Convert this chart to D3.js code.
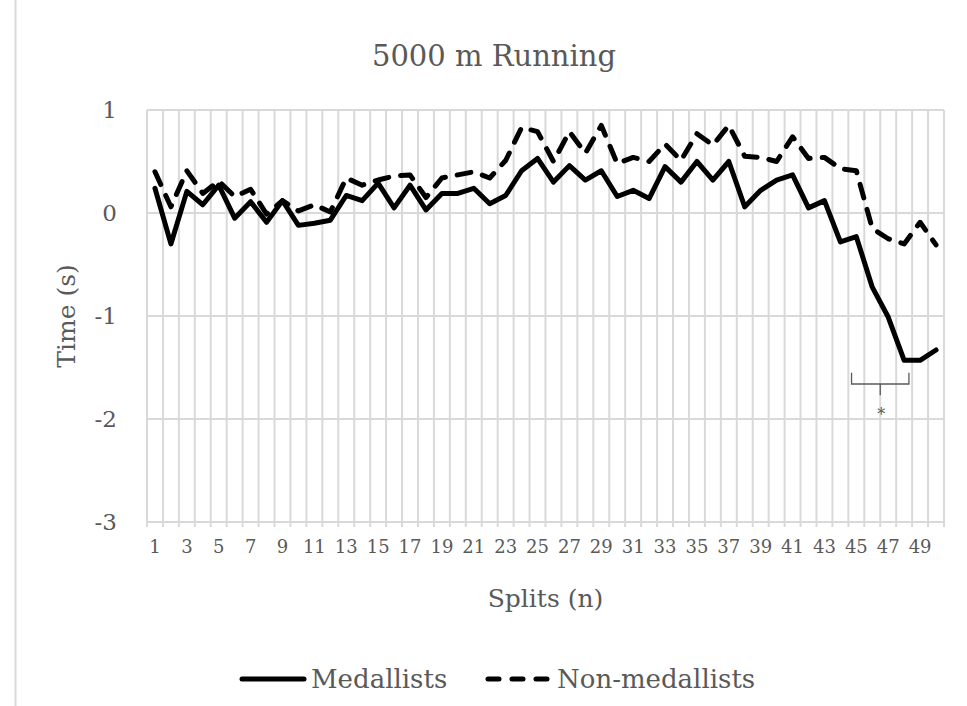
<!DOCTYPE html>
<html>
<head>
<meta charset="utf-8">
<script src="https://cdn.jsdelivr.net/npm/d3@7"></script>
<style>
  html, body { margin: 0; padding: 0; background: #fff; }
  svg { display: block; }
  text { font-family: "Palatino Linotype", "Book Antiqua", Palatino, "DejaVu Serif", serif; fill: #595959; }
</style>
</head>
<body>
<svg id="chart" width="967" height="706"></svg>
<script>
const title = "5000 m Running";
const xTitle = "Splits (n)";
const yTitle = "Time (s)";
const splits = [1,2,3,4,5,6,7,8,9,10,11,12,13,14,15,16,17,18,19,20,21,22,23,24,25,26,27,28,29,30,31,32,33,34,35,36,37,38,39,40,41,42,43,44,45,46,47,48,49,50];
const xTickLabels = [1,3,5,7,9,11,13,15,17,19,21,23,25,27,29,31,33,35,37,39,41,43,45,47,49];
const yTicks = [1,0,-1,-2,-3];
const yTickLabels = ["1","0","-1","-2","-3"];
const medallists = [0.24,-0.30,0.21,0.08,0.27,-0.05,0.11,-0.09,0.12,-0.12,
  -0.10,-0.07,0.17,0.12,0.29,0.05,0.27,0.03,0.19,0.19,
  0.24,0.09,0.17,0.41,0.53,0.30,0.46,0.32,0.41,0.16,
  0.22,0.14,0.45,0.30,0.50,0.32,0.50,0.06,0.22,0.32,
  0.37,0.05,0.12,-0.28,-0.23,-0.72,-1.01,-1.43,-1.43,-1.33];
const nonMedallists = [0.40,0.06,0.41,0.19,0.31,0.16,0.23,-0.01,0.12,0.02,
  0.08,0.01,0.34,0.27,0.32,0.36,0.37,0.15,0.34,0.37,
  0.40,0.34,0.51,0.83,0.79,0.50,0.79,0.58,0.85,0.48,
  0.54,0.50,0.67,0.51,0.77,0.66,0.85,0.55,0.54,0.50,
  0.74,0.53,0.54,0.43,0.41,-0.15,-0.25,-0.30,-0.09,-0.31];
const seriesNames = ["Medallists", "Non-medallists"];
// significance bracket (in split / seconds units)
const bracketFrom = 44.7, bracketTo = 48.3;
const bracketTop = -1.55, bracketBottom = -1.66, bracketTip = -1.77, starY = -1.93;
const starLabel = "*";

const svg = d3.select("#chart");
const W = 967, H = 706;
const plot = {left: 147, right: 944, top: 110, bottom: 522};

const x = d3.scaleBand().domain(splits).range([plot.left, plot.right]).padding(0);
const bw = x.bandwidth();
const xc = s => x(s) + bw / 2;
const xf = s => plot.left + (s - 0.5) * bw; // fractional split position
const y = d3.scaleLinear().domain([-3, 1]).range([plot.bottom, plot.top]);

// outer left border line
svg.append("line").attr("x1", 15.5).attr("x2", 15.5).attr("y1", 0).attr("y2", H)
  .attr("stroke", "#d9d9d9").attr("stroke-width", 2);

// title
svg.append("text").attr("x", 494).attr("y", 66).attr("text-anchor", "middle")
  .style("font-size", "29px").text(title);

// grid
const grid = svg.append("g");
const boundaries = splits.map(s => x(s)).concat([plot.right]);
grid.selectAll("line.v").data(boundaries).join("line")
  .attr("x1", d => d).attr("x2", d => d)
  .attr("y1", plot.top).attr("y2", plot.bottom + 5)
  .attr("stroke", "#d9d9d9").attr("stroke-width", 2);
grid.selectAll("line.h").data(yTicks).join("line")
  .attr("x1", plot.left).attr("x2", plot.right)
  .attr("y1", d => y(d)).attr("y2", d => y(d))
  .attr("stroke", "#d9d9d9").attr("stroke-width", 2);

// y axis labels
const yAxis = d3.axisLeft(y).tickValues(yTicks).tickSize(0).tickPadding(30)
  .tickFormat((d, i) => yTickLabels[i]);
const gy = svg.append("g").attr("transform", `translate(${plot.left},0)`).call(yAxis);
gy.select(".domain").remove();
gy.selectAll("text").style("font-size", "23px").style("font-family", null).attr("fill", "#595959");

// x axis labels
const xAxis = d3.axisBottom(x).tickValues(xTickLabels).tickSize(0).tickPadding(18);
const gx = svg.append("g").attr("transform", `translate(0,${plot.bottom})`).call(xAxis);
gx.select(".domain").remove();
gx.selectAll("text").style("font-size", "18px").style("font-family", null).attr("fill", "#595959");

// axis titles
svg.append("text").attr("x", (plot.left + plot.right) / 2).attr("y", 607).attr("text-anchor", "middle")
  .style("font-size", "25px").text(xTitle);
svg.append("text").attr("transform", `translate(75,${(plot.top + plot.bottom) / 2}) rotate(-90)`)
  .attr("text-anchor", "middle").style("font-size", "25px").text(yTitle);

// lines
const line = d3.line().x((d, i) => xc(splits[i])).y(d => y(d)).curve(d3.curveLinear);
svg.append("path").datum(nonMedallists).attr("d", line).attr("fill", "none")
  .attr("stroke", "#000").attr("stroke-width", 5).attr("stroke-linecap", "round")
  .attr("stroke-linejoin", "round").attr("stroke-dasharray", "14,12");
svg.append("path").datum(medallists).attr("d", line).attr("fill", "none")
  .attr("stroke", "#000").attr("stroke-width", 5).attr("stroke-linecap", "round")
  .attr("stroke-linejoin", "round");

// bracket
const bx0 = xf(bracketFrom), bx1 = xf(bracketTo), bm = (bx0 + bx1) / 2;
svg.append("path")
  .attr("d", `M${bx0},${y(bracketTop)} L${bx0},${y(bracketBottom)} L${bx1},${y(bracketBottom)} L${bx1},${y(bracketTop)} M${bm},${y(bracketBottom)} L${bm},${y(bracketTip)}`)
  .attr("fill", "none").attr("stroke", "#595959").attr("stroke-width", 1.3);
svg.append("text").attr("x", bm + 1).attr("y", y(starY) + 8).attr("text-anchor", "middle")
  .style("font-size", "16px").attr("fill", "#222").text(starLabel);

// legend
const lg = svg.append("g");
const legendItems = [
  {name: seriesNames[0], x0: 242, x1: 304, dash: null, tx: 311},
  {name: seriesNames[1], x0: 488, x1: 550, dash: "11,13", tx: 557}
];
legendItems.forEach(it => {
  lg.append("line").attr("x1", it.x0).attr("x2", it.x1).attr("y1", 679).attr("y2", 679)
    .attr("stroke", "#000").attr("stroke-width", 5).attr("stroke-linecap", "round")
    .attr("stroke-dasharray", it.dash);
  lg.append("text").attr("x", it.tx).attr("y", 688).style("font-size", "26px").text(it.name);
});
</script>
</body>
</html>
